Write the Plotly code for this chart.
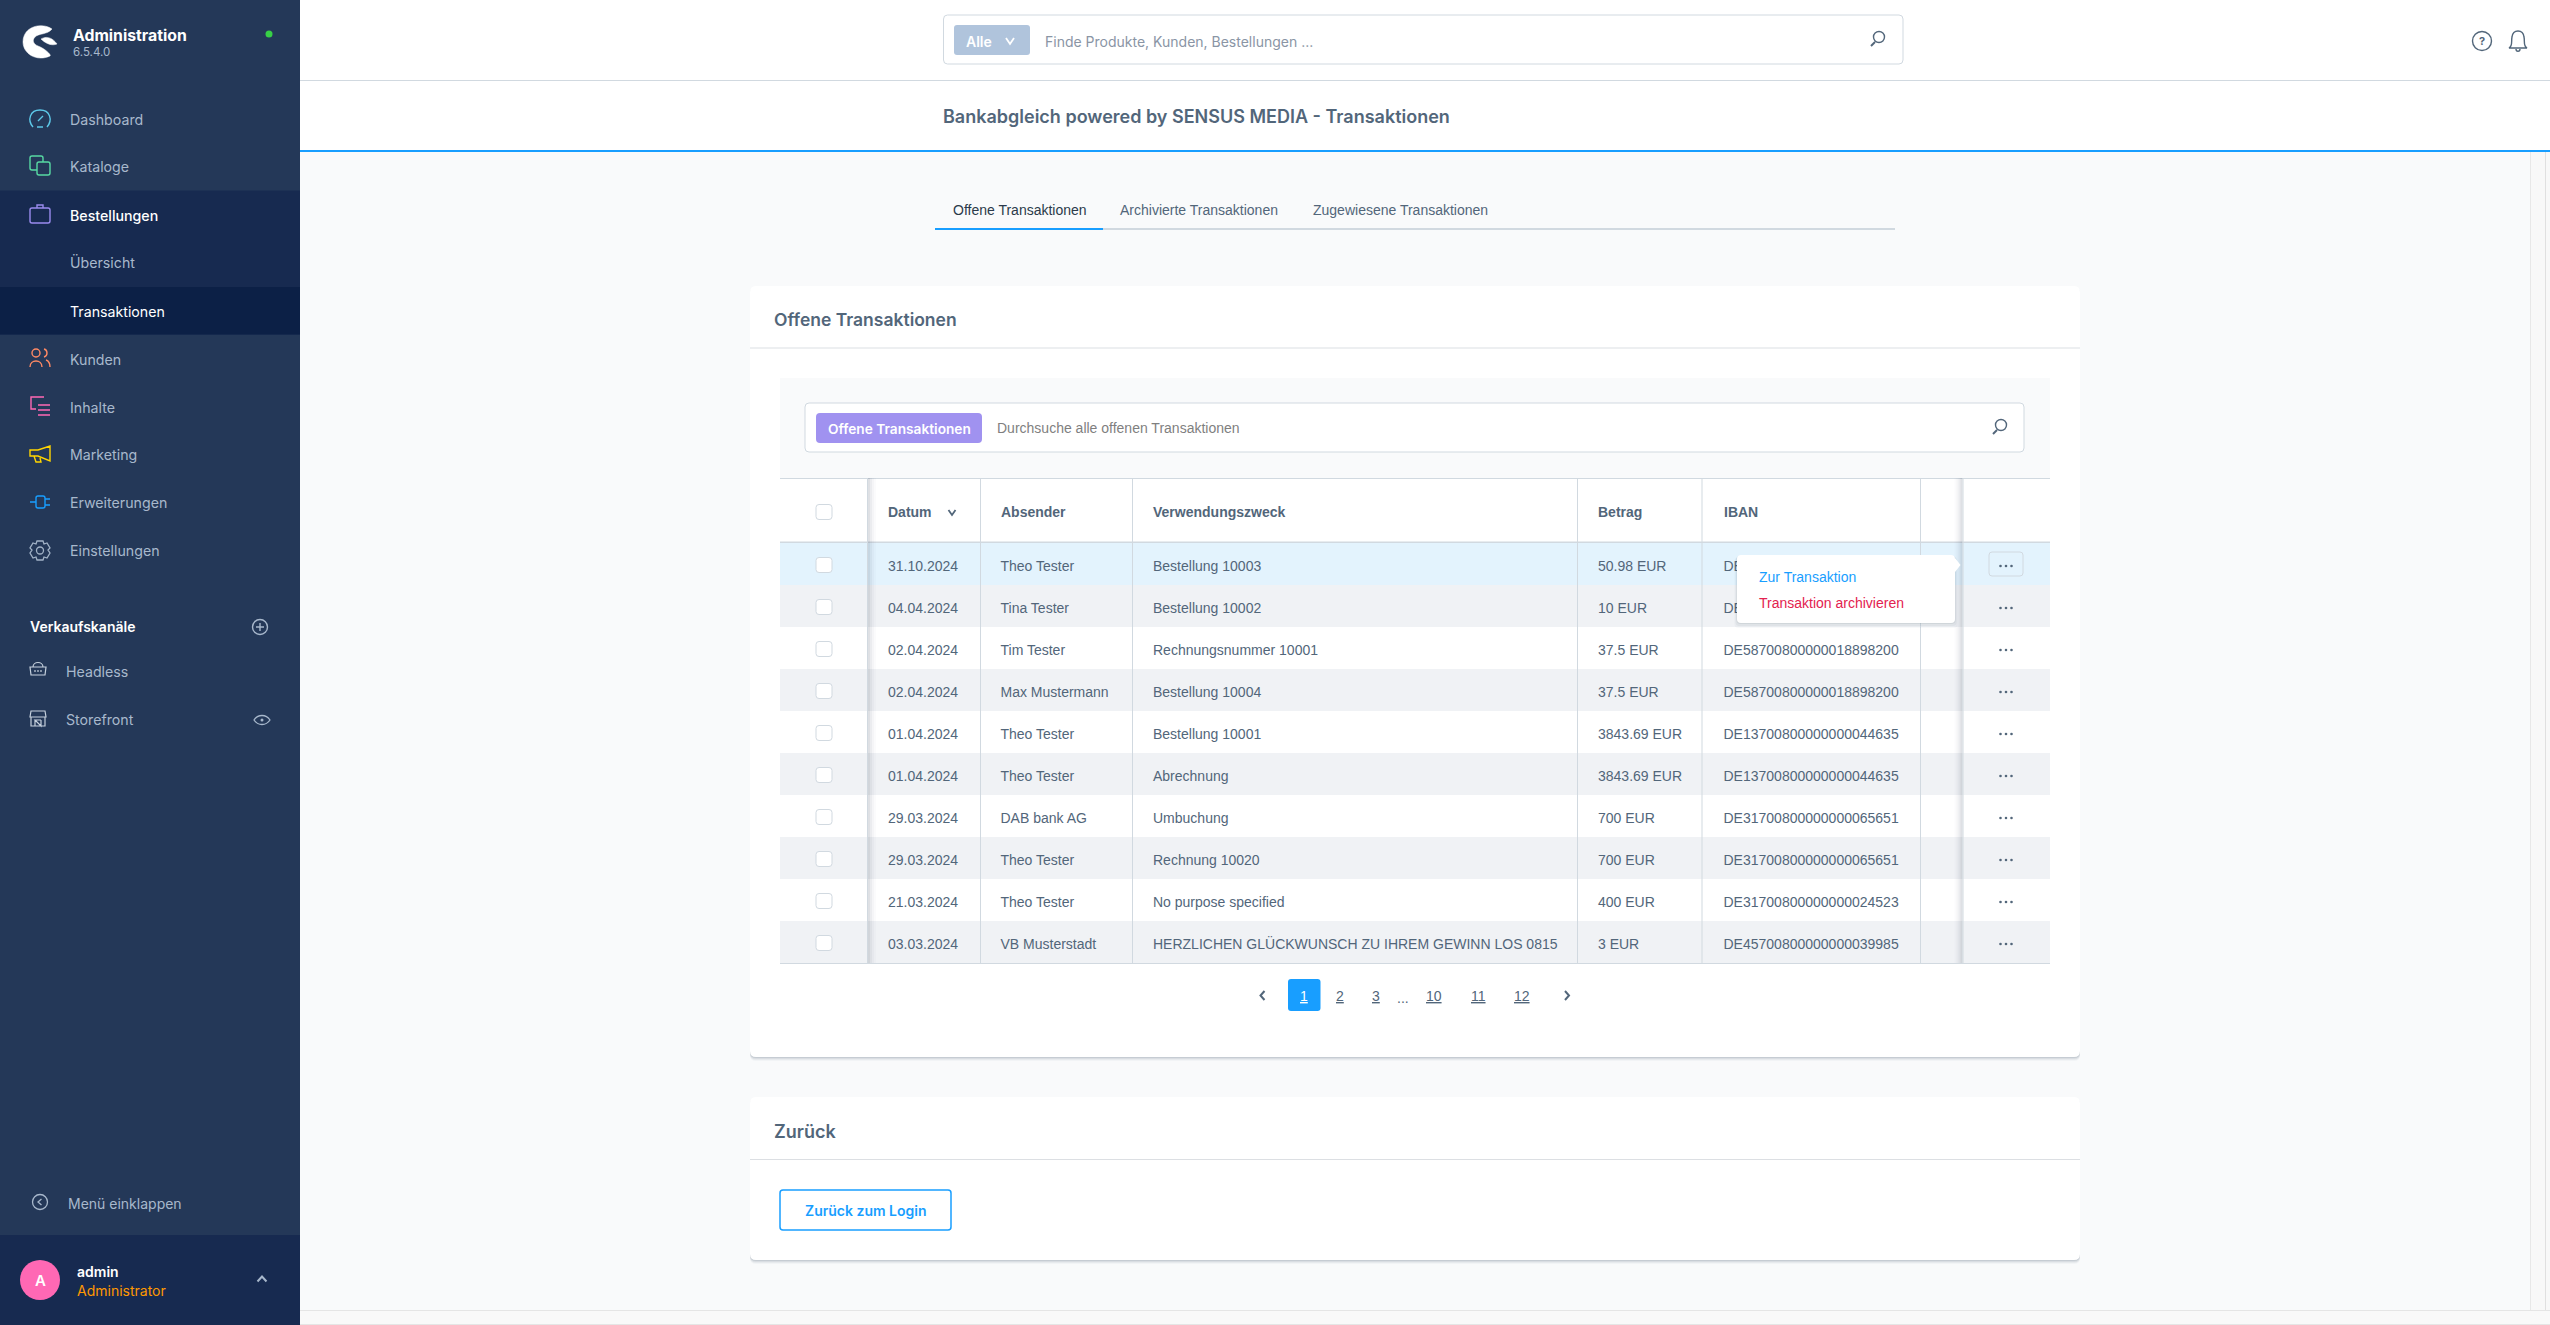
"""Shopware admin screen, Bankabgleich transactions list, rebuilt on a pixel-scale Plotly canvas."""
import plotly.graph_objects as go

W, H = 2550, 1325
FONT = "Inter"
TABLE_FONT = "Liberation Sans"

# ── Data ────────────────────────────────────────────────────────────────────
nav_items = ["Dashboard", "Kataloge", "Bestellungen", "Übersicht", "Transaktionen",
             "Kunden", "Inhalte", "Marketing", "Erweiterungen", "Einstellungen"]
channels = ["Headless", "Storefront"]
tabs = ["Offene Transaktionen", "Archivierte Transaktionen", "Zugewiesene Transaktionen"]
columns = ["Datum", "Absender", "Verwendungszweck", "Betrag", "IBAN"]

dates = ["31.10.2024", "04.04.2024", "02.04.2024", "02.04.2024", "01.04.2024",
         "01.04.2024", "29.03.2024", "29.03.2024", "21.03.2024", "03.03.2024"]
senders = ["Theo Tester", "Tina Tester", "Tim Tester", "Max Mustermann", "Theo Tester",
           "Theo Tester", "DAB bank AG", "Theo Tester", "Theo Tester", "VB Musterstadt"]
purposes = ["Bestellung 10003", "Bestellung 10002", "Rechnungsnummer 10001", "Bestellung 10004",
            "Bestellung 10001", "Abrechnung", "Umbuchung", "Rechnung 10020", "No purpose specified",
            "HERZLICHEN GLÜCKWUNSCH ZU IHREM GEWINN LOS 0815"]
amounts = ["50.98 EUR", "10 EUR", "37.5 EUR", "37.5 EUR", "3843.69 EUR",
           "3843.69 EUR", "700 EUR", "700 EUR", "400 EUR", "3 EUR"]
# the first two IBANs sit behind the context menu, only "DE" can be read
ibans = ["DE", "DE", "DE58700800000018898200", "DE58700800000018898200",
         "DE13700800000000044635", "DE13700800000000044635", "DE31700800000000065651",
         "DE31700800000000065651", "DE31700800000000024523", "DE45700800000000039985"]
pages = ["1", "2", "3", "10", "11", "12"]

# ── Layout constants ────────────────────────────────────────────────────────
NAV_Y = [119, 167, 215, 262, 311, 359, 407, 455, 503, 551]
COL_X = [888, 1000.5, 1153, 1598, 1723.5]
COL_LINES = [980.5, 1132.5, 1577.5, 1702, 1920.5]
ROW_TOP, ROW_H = 543, 42
ROW_Y = [ROW_TOP + ROW_H * i + 21 for i in range(10)]
PAGE_X = [1304, 1339.5, 1375.5, 1434, 1478, 1522]

SIDE, SIDE_DARK, SIDE_ACTIVE = "#243858", "#172a50", "#0c2046"
TEXT, MUTED, BORDER, BLUE = "#52667a", "#a8b8cc", "#d1d9e0", "#189eff"
BG = "#f9fafb"

shapes, notes = [], []


def rect(x0, y0, x1, y1, fill, layer="below"):
    shapes.append(dict(type="rect", x0=x0, y0=y0, x1=x1, y1=y1, fillcolor=fill,
                       line=dict(width=0), layer=layer))


def rrect(x0, y0, x1, y1, r, fill, line=None, lw=1, layer="below"):
    p = (f"M{x0+r} {y0} L{x1-r} {y0} Q{x1} {y0} {x1} {y0+r} L{x1} {y1-r} Q{x1} {y1} {x1-r} {y1} "
         f"L{x0+r} {y1} Q{x0} {y1} {x0} {y1-r} L{x0} {y0+r} Q{x0} {y0} {x0+r} {y0} Z")
    shapes.append(dict(type="path", path=p, fillcolor=fill, layer=layer,
                       line=dict(color=line or fill, width=lw if line else 0)))


def icon(path, color, w=1.4, fill="rgba(0,0,0,0)"):
    shapes.append(dict(type="path", path=path, line=dict(color=color, width=w),
                       fillcolor=fill, layer="below"))


def circle(cx, cy, r, color, w=1.4, fill="rgba(0,0,0,0)", layer="below"):
    shapes.append(dict(type="circle", x0=cx-r, y0=cy-r, x1=cx+r, y1=cy+r, fillcolor=fill,
                       line=dict(color=color, width=w), layer=layer))


def label(x, y, text, size=14, color=TEXT, weight=400, anchor="left", family=FONT):
    notes.append(dict(x=x, y=y, xref="x", yref="y", text=text, showarrow=False, xanchor=anchor,
                      yanchor="middle", borderpad=0, borderwidth=0,
                      font=dict(family=family, size=size, color=color, weight=weight)))


def card(x0, y0, x1, y1):
    for off, alpha in [(4, 0.03), (3, 0.05), (2, 0.07), (1, 0.10)]:
        rrect(x0, y0 + off, x1, y1 + off, 6, f"rgba(40,60,80,{alpha})")
    rrect(x0, y0, x1, y1, 6, "#ffffff")


def chevron(cx, cy, color, dx=4, dy=3, w=1.8):
    icon(f"M{cx-dx} {cy-dy} L{cx} {cy+dy} L{cx+dx} {cy-dy}", color, w)


# ── Page background and header ──────────────────────────────────────────────
rect(300, 0, W, H, BG)
rect(300, 0, W, 150, "#ffffff")
rect(300, 80, W, 81, BORDER)
rect(300, 150, W, 152, BLUE)
rect(2530, 152, W, H, "#f8f8f8")
rect(2530, 152, 2531, 1310, "#e8e8e8")
rect(2545, 152, 2546, 1310, "#e0e0e0")
rect(300, 1310, W, H, "#f9f9f9")
rect(300, 1310, W, 1311, "#e5e5e5")
rect(300, 1324, W, H, "#e5e5e5")

rrect(943.5, 15, 1903, 64, 4, "#ffffff", BORDER)
rrect(954, 25, 1030, 55, 3, "#b0c4dc")
label(966, 41, "Alle", 14, "#ffffff", 600)
chevron(1010, 41, "#ffffff")
label(1045, 41, "Finde Produkte, Kunden, Bestellungen ...", 14, "#8a95a5")
circle(1879, 37, 5.5, TEXT)
icon("M1875 42 L1871 46", TEXT, 2)
circle(2482, 41, 9.5, TEXT)
label(2482, 41, "?", 11, TEXT, 700, "center")
icon("M2509 48 C2513 46 2511 41 2512 37 C2513 29 2523 29 2524 37 C2525 41 2523 46 2527 48 Z "
     "M2516 49 C2516 52 2520 52 2520 49", TEXT)
label(943, 116, "Bankabgleich powered by SENSUS MEDIA - Transaktionen", 18, TEXT, 600)

# tabs
for x, t, c in zip([953, 1120, 1313], tabs, ["#2b3a4a", TEXT, TEXT]):
    label(x, 210, t, 14, c, family=TABLE_FONT)
rect(1103, 228, 1895, 230, BORDER)
rect(935, 228, 1103, 230, BLUE)

# ── Sidebar ─────────────────────────────────────────────────────────────────
rect(0, 0, 300, H, SIDE)
rect(0, 190.5, 300, 334.5, SIDE_DARK)
rect(0, 287, 300, 334.5, SIDE_ACTIVE)
rect(0, 1235, 300, H, SIDE_DARK)

icon("M52 29 C42 22 23 26 23 42 C23 54 37 62 50 56 C52 55 44 48 38 46 "
     "C33 44 32 40 35 37 C39 33 47 35 52 29 Z", "#ffffff", 0.5, "#ffffff")
icon("M41 39 C46 36 52 37 57 44 C52 46 46 44 41 39 Z", "#ffffff", 0.5, "#ffffff")
label(73, 35, "Administration", 15.8, "#ffffff", 700)
label(73, 52, "6.5.4.0", 11.5, MUTED)
circle(269, 34, 3.5, "#37d046", 0, "#37d046")

for name, y in zip(nav_items, NAV_Y):
    active = name in ("Bestellungen", "Transaktionen")
    label(70, y, name, 14.2, "#ffffff" if active else MUTED, 500 if name == "Bestellungen" else 400)

# menu icons
icon("M33 127 C27 120 30 110 40 110 C50 110 53 120 47 127 M37 127 L43 127 M38 121 L43 116", "#5dc8e8")
rrect(30, 156, 43, 170, 2, "rgba(0,0,0,0)", "#57d9a3", 1.4)
rrect(37, 162, 50, 175, 2, SIDE, "#57d9a3", 1.4)
rrect(30, 208, 50, 223, 2, "rgba(0,0,0,0)", "#9a8bee", 1.4)
icon("M37 208 L37 205 L43 205 L43 208", "#9a8bee")
circle(36, 353, 4, "#ff8a65")
icon("M30 367 C30 359 42 359 42 367 M44 349 C48 350 48 356 44 357 M46 360 C49 361 50 364 50 367", "#ff8a65")
icon("M44 397 L31 397 L31 409 L36 409 M38 405 L50 405 M38 410 L50 410 M38 415 L50 415", "#ff68b4")
icon("M30 450 L38 450 L50 446 L50 461 L38 456 L30 456 Z M34 456 L36 462 L41 462 L40 458", "#ffd500")
rrect(36, 496, 45, 508, 2, "rgba(0,0,0,0)", BLUE, 1.4)
icon("M30 502 L36 502 M45 499 L50 499 M45 505 L50 505", BLUE)
icon("M37 541 L43 541 L44 544 L47 543 L50 548 L48 550 L50 553 L47 558 L44 557 L43 560 "
     "L37 560 L36 557 L33 558 L30 553 L32 550 L30 548 L33 543 L36 544 Z", "#a2b3c7", 1.3)
circle(40, 550.5, 3.5, "#a2b3c7", 1.3)

label(30, 626, "Verkaufskanäle", 14, "#ffffff", 600)
circle(260, 627, 7.5, MUTED)
icon("M256 627 L264 627 M260 623 L260 631", MUTED)
for name, y in zip(channels, [671, 719]):
    label(66, y, name, 14.2, MUTED)
icon("M30 667 L46 667 L45 675 L31 675 Z M33 667 C33 661 43 661 43 667 M35 670 L35 672 M38 670 L38 672 M41 670 L41 672", "#c5d0dd", 1.2)
icon("M31 711 L45 711 L46 717 L30 717 Z M31 717 L31 726 L45 726 L45 717 M35 720 L35 726 M41 720 L41 726 L35 720 L41 720", "#c5d0dd", 1.2)
icon("M254 720 C258 714 266 714 270 720 C266 726 258 726 254 720 Z", MUTED, 1.3)
circle(262, 720, 1.5, MUTED, 0, MUTED)

circle(40, 1202, 7.5, MUTED, 1.3)
icon("M41.5 1199 L38 1202 L41.5 1205", MUTED, 1.3)
label(68, 1203, "Menü einklappen", 14, MUTED)
circle(40, 1280, 20, "#ff68b4", 0, "#ff68b4")
label(40, 1280, "A", 15, "#ffffff", 600, "center")
label(76.5, 1271, "admin", 14, "#ffffff", 600)
label(76.5, 1290, "Administrator", 14, "#ff9800")
chevron(262, 1279, MUTED, 4.5, -2.5, 2)

# ── Transaktionen card ──────────────────────────────────────────────────────
card(750, 286, 2080, 1057)
rect(750, 347.5, 2080, 348.5, "#dcdfe3")
label(774, 319, "Offene Transaktionen", 17.5, TEXT, 600)

rect(780, 378, 2050, 478, BG)
rrect(805, 403, 2024, 452, 4, "#ffffff", BORDER)
rrect(816, 413, 982, 443, 4, "#a092f0")
label(899, 428.5, "Offene Transaktionen", 13.7, "#ffffff", 600, "center")
label(997, 428, "Durchsuche alle offenen Transaktionen", 14, "#7f7f7f", family=TABLE_FONT)
circle(2001, 425, 5.5, TEXT)
icon("M1997 430 L1993 434", TEXT, 2)

# table rows
rect(780, 478, 2050, 479, BORDER)
for i in range(10):
    y0 = ROW_TOP + ROW_H * i
    fill = "#e3f3fd" if i == 0 else ("#f0f2f5" if i % 2 else "#ffffff")
    rect(780, y0, 2050, y0 + ROW_H, fill)
rect(780, 541.5, 2050, 543, BORDER)
rect(780, 963, 2050, 964, BORDER)
for x in COL_LINES:
    rect(x - 0.5, 478, x + 0.5, 963, BORDER)

# shadows of the pinned columns
for dx, alpha in [(8, 0.02), (6, 0.03), (4, 0.05), (2, 0.07)]:
    rect(868, 478, 868 + dx, 963, f"rgba(60,70,90,{alpha})")
    rect(1962.5 - dx, 478, 1962.5, 963, f"rgba(60,70,90,{alpha})")
rect(867, 478, 868, 963, BORDER)
rect(1962.5, 478, 1963.5, 963, BORDER)

# checkboxes and row actions
for y in [511] + ROW_Y:
    rrect(816, y - 6.5, 832, y + 8.5, 3, "#ffffff", BORDER)
rrect(1989, 552, 2023, 576, 3, "rgba(0,0,0,0)", BORDER)
for y in ROW_Y:
    for dx in (-5.5, 0, 5.5):
        circle(2006 + dx, y + 2, 1.3, TEXT, 0, TEXT)

for x, col in zip(COL_X, columns):
    label(x, 511.5, col, 14, TEXT, 700, family=TABLE_FONT)
chevron(952, 512.5, TEXT, 3.5, 2.5)

# table cells
traces = []
for x, values in zip(COL_X, [dates, senders, purposes, amounts, ibans]):
    traces.append(go.Scatter(
        x=[x] * len(values), y=[y + 3 for y in ROW_Y], text=values,
        mode="text", textposition="middle right", hoverinfo="skip",
        showlegend=False, cliponaxis=False,
        textfont=dict(family=TABLE_FONT, size=14, color=TEXT),
    ))

# context menu sits above the cell text
for off, alpha in [(5, 0.03), (3, 0.05), (1, 0.08)]:
    rrect(1737 - off / 2, 555 + off / 2, 1955 + off / 2, 623 + off, 4, f"rgba(40,60,80,{alpha})", layer="above")
rrect(1737, 555, 1955, 623, 4, "#ffffff", layer="above")
shapes.append(dict(type="path", path="M1955 558 L1960.5 565 L1955 572 Z", fillcolor="#ffffff",
                   line=dict(width=0), layer="above"))
label(1759, 577, "Zur Transaktion", 14, BLUE, family=TABLE_FONT)
label(1759, 603, "Transaktion archivieren", 14, "#e3224f", family=TABLE_FONT)

# pagination
rrect(1288, 979, 1320.5, 1011, 3, BLUE)
for x, p in zip(PAGE_X, pages):
    label(x, 996, f"<u>{p}</u>", 14, "#ffffff" if p == "1" else TEXT, 400, "center", TABLE_FONT)
label(1403, 998, "...", 14, TEXT, 400, "center", TABLE_FONT)
icon("M1264.5 991 L1260.5 995.5 L1264.5 1000", TEXT, 2)
icon("M1565 991 L1569 995.5 L1565 1000", TEXT, 2)

# ── Zurück card ─────────────────────────────────────────────────────────────
card(750, 1097, 2080, 1260)
rect(750, 1159, 2080, 1160, "#dcdfe3")
label(773.5, 1131, "Zurück", 18, TEXT, 600)
rrect(780, 1190, 951, 1230, 3, "#ffffff", BLUE, 1.5)
label(865.5, 1210, "Zurück zum Login", 14, BLUE, 600, "center")

# ── Figure ──────────────────────────────────────────────────────────────────
fig = go.Figure(data=traces)
fig.update_layout(
    width=W, height=H,
    margin=dict(l=0, r=0, t=0, b=0),
    paper_bgcolor="#ffffff", plot_bgcolor="#ffffff",
    xaxis=dict(range=[0, W], visible=False, fixedrange=True),
    yaxis=dict(range=[H, 0], visible=False, fixedrange=True),
    shapes=shapes, annotations=notes, showlegend=False,
)
fig.write_html("out.html", config={"displayModeBar": False},
               post_script="document.body.style.margin = '0';")
